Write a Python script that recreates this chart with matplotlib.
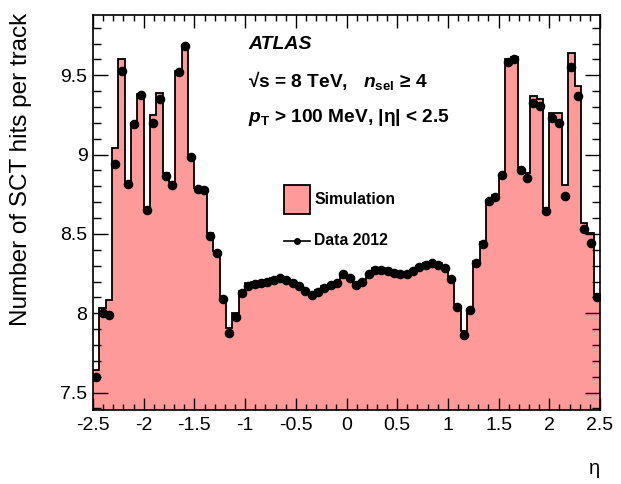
import numpy as np
import matplotlib
matplotlib.use("Agg")
import matplotlib.pyplot as plt
from matplotlib.ticker import MultipleLocator
from matplotlib.patches import Rectangle

# 80 bins in eta, width 0.0625
eta_edges = np.linspace(-2.5, 2.5, 81)

# simulation (filled histogram), per bin
sim_hits = [
    7.645, 8.035, 8.085, 9.04, 9.60, 8.83, 9.20, 9.38, 8.665, 9.25,
    9.39, 8.885, 8.83, 9.53, 9.69, 9.00, 8.79, 8.785, 8.505, 8.39,
    8.10, 7.905, 8.00, 8.14, 8.19, 8.195, 8.20, 8.21, 8.22, 8.23,
    8.22, 8.20, 8.18, 8.15, 8.125, 8.145, 8.17, 8.185, 8.20, 8.25,
    8.235, 8.19, 8.205, 8.25, 8.285, 8.285, 8.275, 8.265, 8.255, 8.255,
    8.275, 8.30, 8.315, 8.325, 8.315, 8.29, 8.225, 8.045, 7.885, 8.025,
    8.33, 8.45, 8.715, 8.745, 8.865, 9.60, 9.615, 8.915, 8.885, 9.37,
    9.35, 8.665, 9.265, 9.26, 8.81, 9.64, 9.43, 8.57, 8.505, 8.12,
]

# data 2012, per bin
data_hits = [
    7.60, 8.00, 7.99, 8.94, 9.525, 8.815, 9.195, 9.375, 8.65, 9.20,
    9.35, 8.865, 8.81, 9.52, 9.685, 8.985, 8.78, 8.775, 8.485, 8.38,
    8.09, 7.875, 7.975, 8.125, 8.17, 8.185, 8.19, 8.20, 8.21, 8.22,
    8.21, 8.19, 8.17, 8.14, 8.115, 8.135, 8.16, 8.175, 8.19, 8.245,
    8.225, 8.18, 8.195, 8.245, 8.275, 8.275, 8.265, 8.255, 8.245, 8.245,
    8.265, 8.29, 8.305, 8.315, 8.305, 8.285, 8.215, 8.04, 7.865, 8.02,
    8.315, 8.435, 8.705, 8.735, 8.87, 9.585, 9.605, 8.905, 8.855, 9.325,
    9.305, 8.645, 9.23, 9.20, 8.74, 9.555, 9.37, 8.53, 8.445, 8.105,
]

xtick_vals = [-2.5, -2, -1.5, -1, -0.5, 0, 0.5, 1, 1.5, 2, 2.5]
xtick_labels = ['-2.5', '-2', '-1.5', '-1', '-0.5', '0', '0.5', '1', '1.5', '2', '2.5']
ytick_vals = [7.5, 8, 8.5, 9, 9.5]
ytick_labels = ['7.5', '8', '8.5', '9', '9.5']

plt.rcParams['font.family'] = ['Liberation Sans', 'DejaVu Sans']
plt.rcParams['mathtext.fontset'] = 'custom'
plt.rcParams['mathtext.rm'] = 'Liberation Sans:bold'
plt.rcParams['mathtext.it'] = 'Liberation Sans:bold:italic'
plt.rcParams['mathtext.bf'] = 'Liberation Sans:bold'

pink = '#ff9a9a'

fig = plt.figure(figsize=(6.21, 4.84), dpi=100)
ax = fig.add_axes([0.1498, 0.1529, 0.8164, 0.8161])

# filled simulation histogram + black outline
ax.stairs(sim_hits, eta_edges, fill=True, baseline=7.0, facecolor=pink, edgecolor='none')
ax.stairs(sim_hits, eta_edges, baseline=None, color='black', lw=1.3)

centers = 0.5 * (eta_edges[:-1] + eta_edges[1:])
ax.plot(centers, data_hits, 'o', color='black', markersize=5.9, zorder=3)

ax.set_xlim(-2.5, 2.5)
ax.set_ylim(7.39, 9.88)

ax.set_xticks(xtick_vals)
ax.set_xticklabels(xtick_labels)
ax.set_yticks(ytick_vals)
ax.set_yticklabels(ytick_labels)
ax.xaxis.set_minor_locator(MultipleLocator(0.1))
ax.yaxis.set_minor_locator(MultipleLocator(0.1))
ax.tick_params(which='both', direction='in', top=True, right=True, labelsize=14, width=1.0)
ax.tick_params(axis='x', which='major', length=9, pad=5)
ax.tick_params(axis='x', which='minor', length=4.5)
ax.tick_params(axis='y', which='major', length=11, pad=4)
ax.tick_params(axis='y', which='minor', length=5.5)
for s in ax.spines.values():
    s.set_linewidth(1.2)

ax.set_ylabel('Number of SCT hits per track', fontsize=17.5, loc='top')
ax.yaxis.set_label_coords(-0.121, 1.005)
ax.set_xlabel('η', fontsize=14.5, loc='right', labelpad=18)

# labels
ax.text(0.306, 0.913, 'ATLAS', transform=ax.transAxes, fontsize=14,
        fontweight='bold', fontstyle='italic')
ax.text(0.306, 0.8185, '√s = 8 TeV,   $\\mathit{n}_{\\mathrm{sel}}$ ≥ 4', transform=ax.transAxes,
        fontsize=13.8, fontweight='bold')
ax.text(0.306, 0.730, '$\\mathit{p}_{\\mathrm{T}}$ > 100 MeV, |η| < 2.5', transform=ax.transAxes,
        fontsize=13.8, fontweight='bold')

# legend, drawn by hand
ax.add_patch(Rectangle((0.3767, 0.4962), 0.0513, 0.0734, transform=ax.transAxes,
                       facecolor=pink, edgecolor='black', lw=1.3, zorder=4))
ax.text(0.4365, 0.533, 'Simulation', transform=ax.transAxes, fontsize=11.3,
        fontweight='bold', va='center')
ax.plot([0.3767, 0.428], [0.428, 0.428], transform=ax.transAxes, color='black', lw=1.2, zorder=4)
ax.plot([0.4024], [0.428], 'o', transform=ax.transAxes, color='black', markersize=4, zorder=4)
ax.text(0.4365, 0.428, 'Data 2012', transform=ax.transAxes, fontsize=11.3,
        fontweight='bold', va='center')

fig.savefig('out.png', dpi=100)
